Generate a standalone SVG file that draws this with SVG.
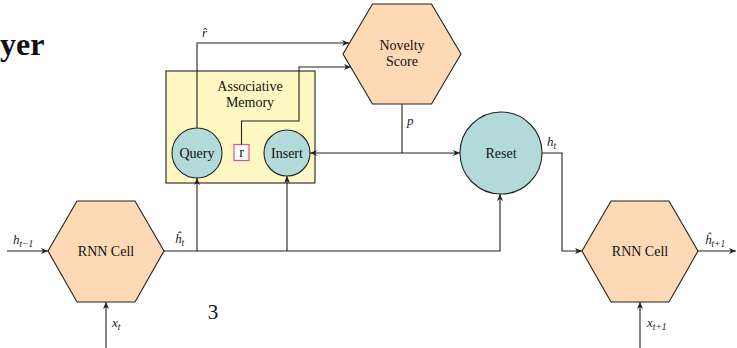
<svg xmlns="http://www.w3.org/2000/svg" width="737" height="348" viewBox="0 0 737 348">
<style>
.hex{fill:#fdd9b6;stroke:#222;stroke-width:1.1}
.circ{fill:#b3dada;stroke:#222;stroke-width:1.1}
.lbl{font-family:"Liberation Serif",serif;font-size:14px;fill:#111;text-anchor:middle}
.math{font-family:"Liberation Serif",serif;font-style:italic;font-size:13px;fill:#222}
.sub{font-size:9.5px}
.edge{fill:none;stroke:#222;stroke-width:1.1}
</style>
<defs>
<marker id="arr" viewBox="0 0 8 8" refX="7" refY="4" markerWidth="8" markerHeight="8" markerUnits="userSpaceOnUse" orient="auto">
<path d="M0,1 L7,4 L0,7 L2,4 Z" fill="#222"/>
</marker>
</defs>
<rect width="737" height="348" fill="#fff"/>
<text x="0" y="55" font-family="Liberation Serif,serif" font-weight="bold" font-size="32" fill="#111">yer</text>
<text x="213" y="319" font-family="Liberation Serif,serif" font-size="21" fill="#111" text-anchor="middle">3</text>

<g id="memory">
<rect x="166" y="71" width="149" height="112" fill="#fff8c2" stroke="#222" stroke-width="1.1"/>
<text class="lbl" x="250" y="91">Associative</text>
<text class="lbl" x="250" y="107">Memory</text>
</g>
<g id="query">
<circle class="circ" cx="197" cy="153" r="25"/>
<text class="lbl" x="197" y="157.5">Query</text>
</g>
<g id="insert">
<circle class="circ" cx="287" cy="153" r="23"/>
<text class="lbl" x="287" y="157.5">Insert</text>
</g>
<g id="rbox">
<rect x="234" y="144.5" width="15" height="16" fill="#fff" stroke="#e84c8a" stroke-width="1.2"/>
<text class="lbl" x="241.5" y="157">r</text>
</g>
<g id="novelty">
<polygon class="hex" points="343,54 372.5,4 431.5,4 461,54 431.5,104 372.5,104"/>
<text class="lbl" x="402" y="50">Novelty</text>
<text class="lbl" x="402" y="66">Score</text>
</g>
<g id="reset">
<circle class="circ" cx="501" cy="153" r="41"/>
<text class="lbl" x="501" y="157.5">Reset</text>
</g>
<g id="rnn1">
<polygon class="hex" points="48,251 77,201 135,201 164,251 135,302 77,302"/>
<text class="lbl" x="106" y="255.5">RNN Cell</text>
</g>
<g id="rnn2">
<polygon class="hex" points="582,251 611,201 669,201 698,251 669,302 611,302"/>
<text class="lbl" x="640" y="255.5">RNN Cell</text>
</g>

<g id="connectors">
<path class="edge" d="M197,128 V43 H349" marker-end="url(#arr)"/>
<path class="edge" d="M241.5,144.5 V121 H299 V67 H351" marker-end="url(#arr)"/>
<path class="edge" d="M402,104 V153"/>
<path class="edge" d="M402,153 H310" marker-end="url(#arr)"/>
<path class="edge" d="M402,153 H460" marker-end="url(#arr)"/>
<path class="edge" d="M542,153 H562 V251 H582" marker-end="url(#arr)"/>
<path class="edge" d="M698,251 H736" marker-end="url(#arr)"/>
<path class="edge" d="M7,251 H48" marker-end="url(#arr)"/>
<path class="edge" d="M164,251 H500 V194" marker-end="url(#arr)"/>
<path class="edge" d="M197,251 V178" marker-end="url(#arr)"/>
<path class="edge" d="M287,251 V176" marker-end="url(#arr)"/>
<path class="edge" d="M106,348 V302" marker-end="url(#arr)"/>
<path class="edge" d="M640,348 V302" marker-end="url(#arr)"/>
</g>

<g id="labels">
<text class="math" x="202" y="37">r̂</text>
<text class="math" x="407" y="125">p</text>
<text class="math" x="547" y="146">h<tspan class="sub" dy="3">t</tspan></text>
<text class="math" x="175" y="243">ĥ<tspan class="sub" dy="3">t</tspan></text>
<text class="math" x="705" y="244">ĥ<tspan class="sub" dy="3">t+1</tspan></text>
<text class="math" x="13" y="244">h<tspan class="sub" dy="3">t−1</tspan></text>
<text class="math" x="112" y="327">x<tspan class="sub" dy="3">t</tspan></text>
<text class="math" x="647" y="327">x<tspan class="sub" dy="3">t+1</tspan></text>
</g>
</svg>
